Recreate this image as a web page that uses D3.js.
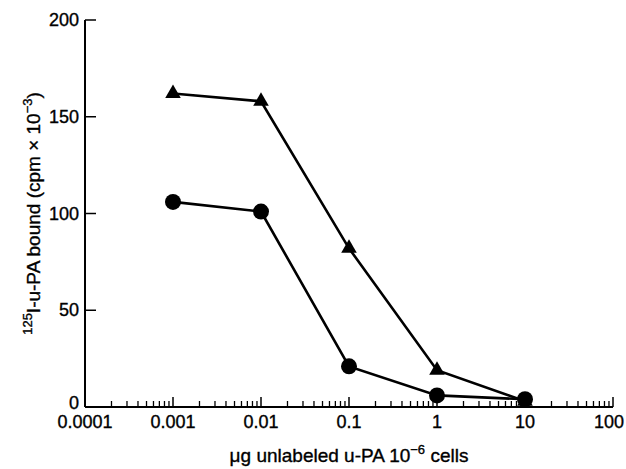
<!DOCTYPE html>
<html lang="en">
<head>
<meta charset="UTF-8">
<title>u-PA binding</title>
<style>
    body{ margin:0; background:#fff; }
    text{ font-family: "Liberation Sans", Arial, Helvetica, sans-serif; fill:#000; stroke:#000; stroke-width:0.35px; }
    .tick-label{ font-size:18px; }
    .title{ font-size:19px; }
    .line{ fill:none; stroke:#000; stroke-width:2.6px; }
</style>
<script src="https://cdn.jsdelivr.net/npm/d3@7"></script>
</head>
<body>
<div id="container"></div>
<script>
// data
const doses = [0.001, 0.01, 0.1, 1, 10];
const triangleSeries = [162, 158, 82, 19, 3];
const circleSeries = [106, 101, 21, 6, 4];
const xTicks = [0.0001, 0.001, 0.01, 0.1, 1, 10, 100];
const yTicks = [0, 50, 100, 150, 200];

const width = 626, height = 469;
const margin = {top:20, right:13, bottom:62, left:85};

const svg = d3.select("#container").append("svg")
    .attr("width", width).attr("height", height);

const xScale = d3.scaleLog()
    .domain([0.0001, 100])
    .range([margin.left, width - margin.right]);
const yScale = d3.scaleLinear()
    .domain([0, 200])
    .range([height - margin.bottom, margin.top]);

const x0 = margin.left, y0 = height - margin.bottom;

// axes lines
svg.append("line").attr("x1", x0).attr("x2", x0)
    .attr("y1", yScale(200)).attr("y2", y0)
    .attr("stroke", "#000").attr("stroke-width", 2);
svg.append("line").attr("x1", x0).attr("x2", xScale(100))
    .attr("y1", y0).attr("y2", y0)
    .attr("stroke", "#000").attr("stroke-width", 2);

// y ticks (point inward)
svg.selectAll(".ytick").data(yTicks.filter(d => d > 0)).enter()
    .append("line")
    .attr("x1", x0).attr("x2", x0 + 11)
    .attr("y1", d => yScale(d)).attr("y2", d => yScale(d))
    .attr("stroke", "#000").attr("stroke-width", 1.5);
svg.selectAll(".ylab").data(yTicks).enter()
    .append("text").attr("class", "tick-label")
    .attr("x", x0 - 6)
    .attr("y", d => d === 0 ? yScale(d) + 2 : yScale(d) + 6)
    .attr("text-anchor", "end")
    .text(d => d);

// x ticks: minor 2..9 and decades, pointing up
const minor = [];
for (let e = -4; e < 2; e++) {
    for (let m = 2; m <= 9; m++) minor.push(m * Math.pow(10, e));
}
svg.selectAll(".xminor").data(minor).enter()
    .append("line")
    .attr("x1", d => xScale(d)).attr("x2", d => xScale(d))
    .attr("y1", y0).attr("y2", y0 - 6)
    .attr("stroke", "#000").attr("stroke-width", 1.3);
svg.selectAll(".xmajor").data(xTicks.slice(1)).enter()
    .append("line")
    .attr("x1", d => xScale(d)).attr("x2", d => xScale(d))
    .attr("y1", y0).attr("y2", y0 - 10)
    .attr("stroke", "#000").attr("stroke-width", 1.5);
const lastTick = xTicks[xTicks.length - 1];
svg.selectAll(".xlab").data(xTicks).enter()
    .append("text").attr("class", "tick-label")
    .attr("x", d => d === lastTick ? width - 2 : xScale(d))
    .attr("y", y0 + 21)
    .attr("text-anchor", d => d === lastTick ? "end" : "middle")
    .text(d => d.toString());

// lines
const lineGen = d3.line().x((d, i) => xScale(doses[i])).y(d => yScale(d));
svg.append("path").attr("class", "line").attr("d", lineGen(triangleSeries));
svg.append("path").attr("class", "line").attr("d", lineGen(circleSeries));

// markers
svg.selectAll(".tri").data(triangleSeries).enter()
    .append("path")
    .attr("d", d3.symbol().type(d3.symbolTriangle).size(105))
    .attr("transform", (d, i) => `translate(${xScale(doses[i])},${yScale(d)})`)
    .attr("fill", "#000");
svg.selectAll(".circ").data(circleSeries).enter()
    .append("circle")
    .attr("cx", (d, i) => xScale(doses[i]))
    .attr("cy", d => yScale(d))
    .attr("r", 8)
    .attr("fill", "#000");

// axis titles
const xt = svg.append("text").attr("class", "title")
    .attr("x", (x0 + xScale(100)) / 2)
    .attr("y", 462)
    .attr("text-anchor", "middle");
xt.append("tspan").text("\u03bcg unlabeled u-PA 10");
xt.append("tspan").attr("dy", -8).style("font-size", "13px").text("\u22126");
xt.append("tspan").attr("dy", 8).text(" cells");

const yt = svg.append("text").attr("class", "title")
    .attr("transform", `translate(40,${(yScale(200) + y0) / 2}) rotate(-90)`)
    .attr("text-anchor", "middle");
yt.append("tspan").attr("dy", -8).style("font-size", "13px").text("125");
yt.append("tspan").attr("dy", 8).text("I-u-PA bound (cpm \u00d7 10");
yt.append("tspan").attr("dy", -8).style("font-size", "13px").text("\u22123");
yt.append("tspan").attr("dy", 8).text(")");
</script>
</body>
</html>
